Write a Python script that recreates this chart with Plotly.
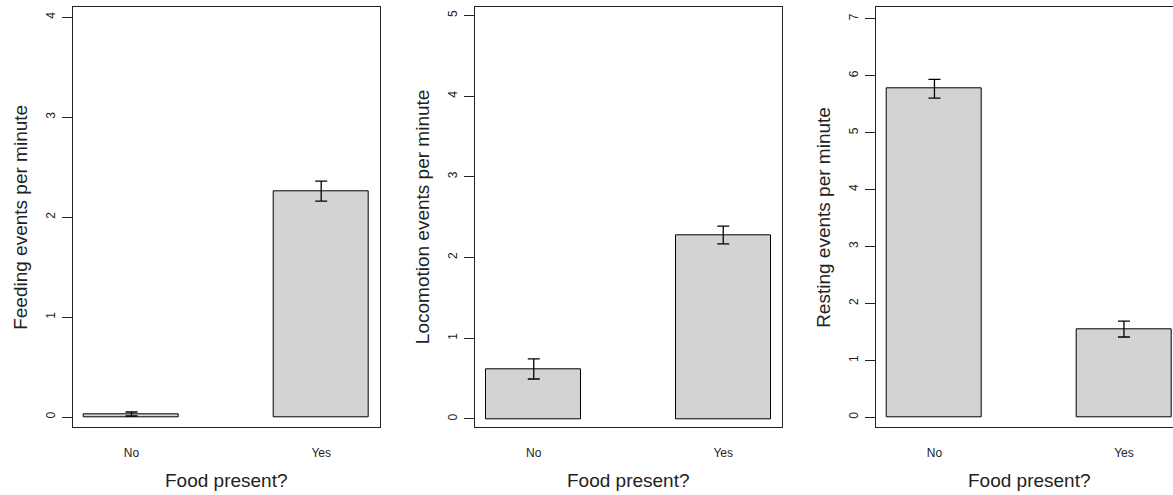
import plotly.graph_objects as go

# Food treatment groups
categories = ["No", "Yes"]

# mean events per minute and standard errors
feeding_mean = [0.03, 2.26]
feeding_se = [0.02, 0.10]
locomotion_mean = [0.62, 2.28]
locomotion_se = [0.125, 0.11]
resting_mean = [5.77, 1.55]
resting_se = [0.165, 0.14]

y_titles = ["Feeding events per minute", "Locomotion events per minute", "Resting events per minute"]
y_max = [4, 5, 7]

W, H = 1173, 495
FONT = "Liberation Sans, Arial, sans-serif"
INK = "#222222"

# frame edges in pixels (left, right); right frame of last panel runs off the image
frames = [(72.7, 380.0), (475.0, 782.0), (875.7, 1182.7)]
top_px, bottom_px = 7.3, 427.0
y_ranges = [[-0.1, 4.1], [-0.1, 5.1], [-0.17, 7.2]]
x_lo, x_hi = -0.31, 1.31

fig = go.Figure()
panels = [(feeding_mean, feeding_se), (locomotion_mean, locomotion_se), (resting_mean, resting_se)]
for i, (means, se) in enumerate(panels):
    n = "" if i == 0 else str(i + 1)
    fig.add_trace(go.Bar(
        x=categories, y=means, width=0.5,
        marker=dict(color="#d3d3d3", line=dict(color="black", width=1)),
        error_y=dict(type="data", array=se, color="black", thickness=1.3, width=6),
        xaxis="x" + n, yaxis="y" + n, showlegend=False, hoverinfo="skip",
    ))

    left, right = frames[i]
    x_range = [x_lo, x_hi]
    if right > W:
        # clip the panel at the image edge
        x_range = [x_lo, x_lo + (x_hi - x_lo) * (W - left) / (right - left)]
        right_dom = 1.0
    else:
        right_dom = right / W

    fig.layout["xaxis" + n] = dict(
        domain=[left / W, right_dom], range=x_range, anchor="y" + n,
        showline=True, mirror=True, linecolor=INK, linewidth=1.2,
        ticks="", ticklabelstandoff=14, showgrid=False, zeroline=False,
        tickfont=dict(family=FONT, size=12, color=INK), fixedrange=True,
    )
    fig.layout["yaxis" + n] = dict(
        domain=[1 - bottom_px / H, 1 - top_px / H], range=y_ranges[i], anchor="x" + n,
        showline=True, mirror=(right <= W), linecolor=INK, linewidth=1.2,
        tickmode="array", tickvals=list(range(y_max[i] + 1)),
        ticks="outside", ticklen=10, tickwidth=1, tickcolor=INK,
        tickangle=-90, ticklabelstandoff=2,
        tickfont=dict(family=FONT, size=12, color=INK),
        showgrid=False, zeroline=False, fixedrange=True,
    )

    mid = (left + right) / 2
    fig.add_annotation(text="Food present?", xref="paper", yref="paper",
                       x=mid / W, y=1 - 480 / H, xanchor="center", yanchor="middle",
                       showarrow=False, font=dict(family=FONT, size=19, color=INK))
    fig.add_annotation(text=y_titles[i], xref="paper", yref="paper",
                       x=(left - 53) / W, y=1 - (top_px + bottom_px) / 2 / H,
                       xanchor="center", yanchor="middle",
                       textangle=-90, showarrow=False,
                       font=dict(family=FONT, size=19, color=INK))

fig.update_layout(
    width=W, height=H, margin=dict(l=0, r=0, t=0, b=0),
    paper_bgcolor="white", plot_bgcolor="white",
    bargap=0,
)

fig.write_html("out.html", config={"displayModeBar": False},
               post_script="document.body.style.margin='0';")
